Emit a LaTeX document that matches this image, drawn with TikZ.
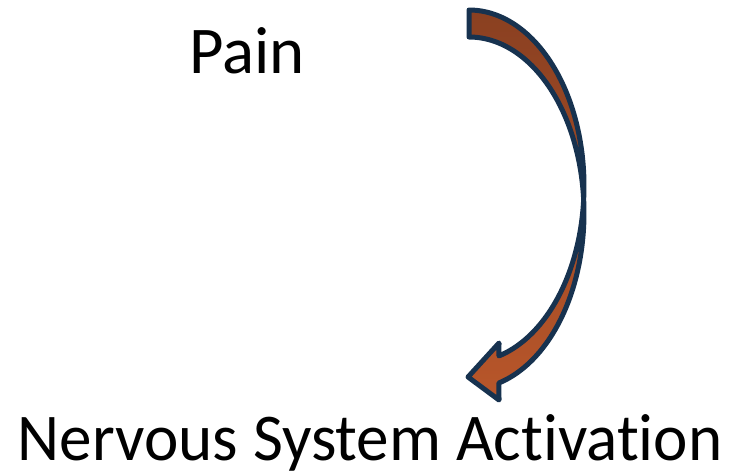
\documentclass[tikz,border=0pt]{standalone}
\usepackage{fontspec}
\setmainfont{Carlito}[Ligatures=NoCommon]
\definecolor{arrowline}{RGB}{23,50,79}
\definecolor{arrowtop}{RGB}{138,64,33}
\definecolor{arrowbottom}{RGB}{184,86,42}
\begin{document}
\begin{tikzpicture}[x=1pt,y=-1pt,
  label/.style={inner sep=0pt,anchor=base,font=\fontsize{66.8}{72}\selectfont},
  curvedarrow/.style={draw=arrowline,line width=5pt,line join=round,
    top color=arrowtop,bottom color=arrowbottom}]
\useasboundingbox (0,0) rectangle (731,472);

% text labels
\node[label] (pain) at (247,73) {Pain};
\node[label] (nsa) at (370,460) {\scalebox{0.975}[1]{Nervous System Activation}};

% curved left arrow built from two equal ellipses shifted vertically
% E1: centre (469,186); E2: centre (469,213); radii 115 x 176
\shade[curvedarrow]
  plot[domain=-90:4.4,samples=60] ({469+115*cos(\x)},{186+176*sin(\x)})
  -- plot[domain=-4.4:74.9,samples=60] ({469+115*cos(\x)},{213+176*sin(\x)})
  -- (499,400) -- (468,377) -- (499,343)
  -- plot[domain=74.9:4.4,samples=60] ({469+115*cos(\x)},{186+176*sin(\x)})
  -- plot[domain=-4.4:-90,samples=60] ({469+115*cos(\x)},{213+176*sin(\x)})
  -- cycle;
\end{tikzpicture}
\end{document}
